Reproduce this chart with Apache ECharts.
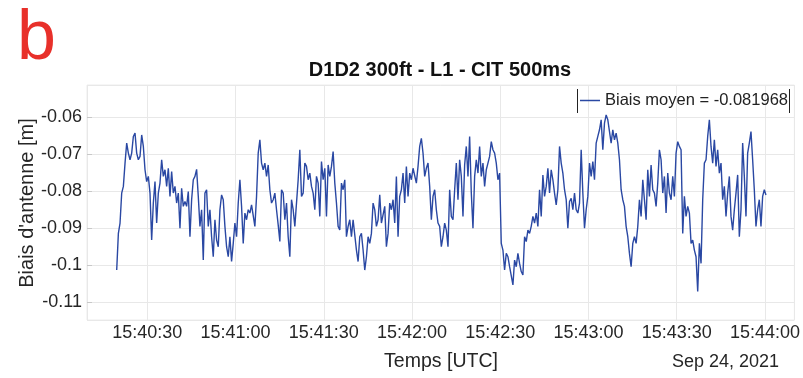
<!DOCTYPE html>
<html>
<head>
<meta charset="utf-8">
<script src="https://cdn.jsdelivr.net/npm/echarts@6/dist/echarts.min.js"></script>
<style>
html,body{margin:0;padding:0;background:#fff;}
#chart{width:803px;height:378px;}
</style>
</head>
<body>
<div id="chart"></div>
<script>
// ---- data ----
const panelLetter = 'b';
const chartTitle = 'D1D2 300ft - L1 - CIT 500ms';
const yAxisTitle = "Biais d'antenne [m]";
const xAxisTitle = 'Temps [UTC]';
const dateLabel = 'Sep 24, 2021';
const seriesName = 'Biais moyen = -0.081968';

const xTickLabels = ['15:40:30','15:41:00','15:41:30','15:42:00','15:42:30','15:43:00','15:43:30','15:44:00'];
const yTickLabels = ['-0.11','-0.1','-0.09','-0.08','-0.07','-0.06'];

// readings were taken at an even time step along the trace
const firstSampleUTC = Date.UTC(2021, 8, 24, 15, 40, 19, 600);
const sampleStepMs = 566;
const xMinUTC = Date.UTC(2021, 8, 24, 15, 40, 9, 500);
const xMaxUTC = Date.UTC(2021, 8, 24, 15, 44, 10, 0);
const yMin = -0.1148;
const yMax = -0.0513;

// 15:40:19.6 -> ~15:41:15
const biaisPart1 = [
-0.1013,-0.0914,-0.0886,-0.0805,-0.0787,-0.0724,-0.0670,-0.0697,-0.0715,-0.0697,
-0.0652,-0.0643,-0.0697,-0.0715,-0.0706,-0.0648,-0.0679,-0.0742,-0.0774,-0.0760,
-0.0805,-0.0932,-0.0832,-0.0774,-0.0886,-0.0805,-0.0778,-0.0715,-0.0760,-0.0742,
-0.0787,-0.0738,-0.0814,-0.0747,-0.0805,-0.0787,-0.0832,-0.0805,-0.0900,-0.0792,
-0.0841,-0.0828,-0.0841,-0.0801,-0.0923,-0.0823,-0.0769,-0.0760,-0.0741,-0.0814,
-0.0895,-0.0850,-0.0986,-0.0805,-0.0796,-0.0895,-0.0850,-0.0923,-0.0977,-0.0877,
-0.0932,-0.0950,-0.0850,-0.0810,-0.0823,-0.0895,-0.0950,-0.0977,-0.0923,-0.0990,
-0.0941,-0.0886,-0.0923,-0.0832,-0.0769,-0.0841,-0.0941,-0.0859,-0.0877,-0.0850,
-0.0859,-0.0837,-0.0841,-0.0895,-0.0814,-0.0697,-0.0661,-0.0724,-0.0742,-0.0724,
-0.0760,-0.0729,-0.0796,-0.0832,-0.0823,-0.0805,-0.0850,-0.0891,-0.0936
];
// ~15:41:16 -> ~15:42:11
const biaisPart2 = [
-0.0796,-0.0805,-0.0877,-0.0832,-0.0923,-0.0977,-0.0823,-0.0850,-0.0895,-0.0891,
-0.0769,-0.0688,-0.0814,-0.0805,-0.0724,-0.0733,-0.0769,-0.0751,-0.0787,-0.0805,
-0.0850,-0.0760,-0.0778,-0.0868,-0.0720,-0.0769,-0.0738,-0.0868,-0.0729,-0.0760,
-0.0733,-0.0693,-0.0778,-0.0832,-0.0895,-0.0905,-0.0778,-0.0796,-0.0769,-0.0923,
-0.0895,-0.0877,-0.0923,-0.0877,-0.0873,-0.0959,-0.0990,-0.0923,-0.0914,-0.0959,
-0.1013,-0.0977,-0.0923,-0.0941,-0.0914,-0.0832,-0.0850,-0.0895,-0.0877,-0.0810,
-0.0886,-0.0886,-0.0841,-0.0950,-0.0914,-0.0832,-0.0850,-0.0823,-0.0886,-0.0760,
-0.0923,-0.0814,-0.0796,-0.0751,-0.0832,-0.0733,-0.0814,-0.0751,-0.0769,-0.0738,
-0.0742,-0.0778,-0.0733,-0.0679,-0.0657,-0.0697,-0.0760,-0.0738,-0.0724,-0.0787,
-0.0877,-0.0814,-0.0796,-0.0850,-0.0886,-0.0895,-0.0950,-0.0923,-0.0886
];
// ~15:42:12 -> ~15:43:07
const biaisPart3 = [
-0.0905,-0.0950,-0.0796,-0.0868,-0.0877,-0.0796,-0.0724,-0.0823,-0.0715,-0.0760,
-0.0868,-0.0729,-0.0679,-0.0760,-0.0652,-0.0805,-0.0900,-0.0760,-0.0715,-0.0751,
-0.0679,-0.0760,-0.0724,-0.0787,-0.0742,-0.0724,-0.0706,-0.0666,-0.0688,-0.0697,
-0.0724,-0.0769,-0.0751,-0.0941,-0.0959,-0.1013,-0.0968,-0.0977,-0.1004,-0.1004,
-0.1053,-0.0986,-0.1004,-0.0968,-0.0995,-0.1017,-0.1026,-0.0923,-0.0936,-0.0905,
-0.0914,-0.0895,-0.0868,-0.0886,-0.0859,-0.0895,-0.0796,-0.0868,-0.0756,-0.0814,
-0.0787,-0.0738,-0.0805,-0.0742,-0.0769,-0.0805,-0.0837,-0.0796,-0.0679,-0.0724,
-0.0751,-0.0796,-0.0823,-0.0900,-0.0828,-0.0819,-0.0850,-0.0805,-0.0850,-0.0859,
-0.0832,-0.0688,-0.0805,-0.0900,-0.0850,-0.0814,-0.0724,-0.0760,-0.0720,-0.0769,
-0.0670,-0.0652,-0.0634,-0.0607,-0.0688,-0.0616,-0.0594,-0.0607,-0.0603
];
// ~15:43:08 -> 15:44:00
const biaisPart4 = [
-0.0670,-0.0634,-0.0661,-0.0643,-0.0670,-0.0715,-0.0796,-0.0823,-0.0841,-0.0895,
-0.0923,-0.0968,-0.1004,-0.0941,-0.0923,-0.0941,-0.0895,-0.0823,-0.0868,-0.0769,
-0.0823,-0.0877,-0.0742,-0.0814,-0.0729,-0.0796,-0.0805,-0.0841,-0.0778,-0.0688,
-0.0715,-0.0805,-0.0760,-0.0859,-0.0751,-0.0805,-0.0823,-0.0760,-0.0814,-0.0697,
-0.0666,-0.0679,-0.0688,-0.0914,-0.0814,-0.0868,-0.0841,-0.0859,-0.0941,-0.0932,
-0.0959,-0.0977,-0.1071,-0.0941,-0.0995,-0.0823,-0.0724,-0.0715,-0.0652,-0.0607,
-0.0679,-0.0724,-0.0661,-0.0733,-0.0688,-0.0751,-0.0724,-0.0823,-0.0787,-0.0868,
-0.0805,-0.0760,-0.0868,-0.0905,-0.0850,-0.0805,-0.0756,-0.0923,-0.0850,-0.0670,
-0.0760,-0.0868,-0.0697,-0.0670,-0.0639,-0.0715,-0.0796,-0.0895,-0.0850,-0.0823,
-0.0895,-0.0814,-0.0796,-0.0810
];

// ---- build ----
const biais = biaisPart1.concat(biaisPart2, biaisPart3, biaisPart4);
const seriesData = biais.map((v, i) => [firstSampleUTC + i * sampleStepMs, v]);
const pad = n => (n < 10 ? '0' : '') + n;
const fmtTime = v => { const d = new Date(v); return pad(d.getUTCHours()) + ':' + pad(d.getUTCMinutes()) + ':' + pad(d.getUTCSeconds()); };
const fmtY = v => String(parseFloat(Number(v).toFixed(4)));

const FONT = '"Liberation Sans", Arial, sans-serif';
const LINE_COLOR = '#2a48a3';
const chart = echarts.init(document.getElementById('chart'), null, {renderer: 'canvas'});
chart.setOption({
  animation: false,
  backgroundColor: '#ffffff',
  textStyle: {fontFamily: FONT},
  title: {
    text: chartTitle, left: 440, top: 60, padding: 0, textAlign: 'center',
    textStyle: {fontFamily: FONT, fontSize: 20, fontWeight: 'bold', color: '#111'}
  },
  legend: {
    data: [seriesName], left: 580, top: 92, padding: 0,
    icon: 'rect', itemWidth: 20, itemHeight: 1.5,
    textStyle: {fontFamily: FONT, fontSize: 16.5, color: '#222'}
  },
  grid: {left: 87, right: 8, top: 85, bottom: 58, show: true, borderColor: '#ececec', borderWidth: 1, containLabel: false},
  xAxis: {
    type: 'time', min: xMinUTC, max: xMaxUTC, splitNumber: 8,
    axisLine: {show: false},
    axisTick: {show: false},
    splitLine: {show: true, lineStyle: {color: '#e8e8e8', width: 1}},
    axisLabel: {
      showMinLabel: false, showMaxLabel: false, margin: 4, hideOverlap: false,
      fontFamily: FONT, fontSize: 18, color: '#262626',
      formatter: v => { const s = fmtTime(v); return xTickLabels.indexOf(s) >= 0 ? s : ''; }
    }
  },
  yAxis: {
    type: 'value', min: yMin, max: yMax, splitNumber: 6,
    axisLine: {show: false},
    axisTick: {show: true, inside: true, length: 5, lineStyle: {color: '#c8c8c8'}},
    splitLine: {show: true, lineStyle: {color: '#e8e8e8', width: 1}},
    axisLabel: {
      showMinLabel: false, showMaxLabel: false, margin: 5,
      fontFamily: FONT, fontSize: 18, color: '#262626',
      formatter: v => { const s = fmtY(v); return yTickLabels.indexOf(s) >= 0 ? s : ''; }
    }
  },
  series: [{
    name: seriesName, type: 'line', data: seriesData,
    symbol: 'none', showSymbol: false,
    lineStyle: {color: LINE_COLOR, width: 1.4},
    itemStyle: {color: LINE_COLOR}
  }],
  graphic: [
    {type: 'text', left: 17, top: 5, style: {text: panelLetter, fontFamily: FONT, fontSize: 70, fill: '#e8302a'}},
    {type: 'text', x: 27, y: 203, rotation: Math.PI / 2,
      style: {text: yAxisTitle, fontFamily: FONT, fontSize: 20, fill: '#262626', align: 'center', verticalAlign: 'middle'}},
    {type: 'text', x: 441, y: 362,
      style: {text: xAxisTitle, fontFamily: FONT, fontSize: 19.5, fill: '#262626', align: 'center', verticalAlign: 'middle'}},
    {type: 'text', x: 779, y: 362,
      style: {text: dateLabel, fontFamily: FONT, fontSize: 18, fill: '#262626', align: 'right', verticalAlign: 'middle'}},
    {type: 'line', shape: {x1: 577.5, y1: 89, x2: 577.5, y2: 113}, style: {stroke: '#222', lineWidth: 1}},
    {type: 'line', shape: {x1: 789.5, y1: 89, x2: 789.5, y2: 113}, style: {stroke: '#222', lineWidth: 1}}
  ]
});
</script>
</body>
</html>
